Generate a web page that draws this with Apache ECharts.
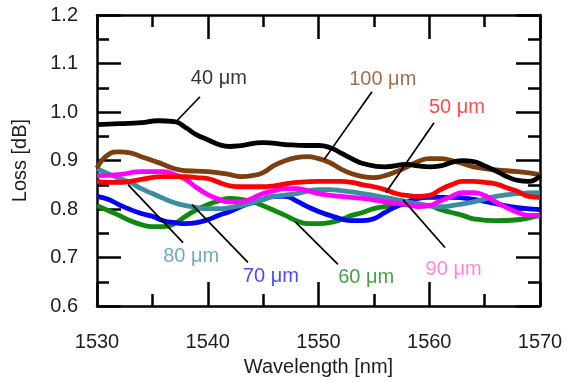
<!DOCTYPE html>
<html><head><meta charset="utf-8">
<script src="https://cdn.jsdelivr.net/npm/echarts@6/dist/echarts.min.js"></script>
<style>html,body{margin:0;padding:0;background:#fff}#c{width:572px;height:382px}</style>
</head><body><div id="c"></div>
<script>
// ---- data ----
const xTicks = [1530, 1540, 1550, 1560, 1570];
const yTicks = [0.6, 0.7, 0.8, 0.9, 1.0, 1.1, 1.2];

const wl40 = [1530,1532,1534,1535.5,1537,1538,1539,1540,1541,1542,1543,1545,1547,1549,1550,1551,1552,1553,1554,1556,1558,1559,1560,1561,1562,1563,1564,1565,1566,1567,1568,1569,1570];
const loss40 = [0.974,0.976,0.978,0.982,0.980,0.968,0.953,0.943,0.933,0.929,0.931,0.937,0.933,0.931,0.931,0.927,0.916,0.904,0.894,0.887,0.892,0.889,0.887,0.889,0.896,0.900,0.898,0.889,0.879,0.867,0.859,0.857,0.869];

const wl100 = [1530,1531,1532,1533,1534,1535,1536,1537,1538,1540,1542,1543,1544,1545,1546,1547,1548,1549,1550,1551,1552,1553,1554,1555,1556,1557,1558,1559,1560,1561,1562,1563,1564,1566,1568,1570];
const loss100 = [0.885,0.912,0.918,0.916,0.908,0.900,0.892,0.883,0.879,0.877,0.871,0.867,0.869,0.875,0.890,0.900,0.906,0.908,0.904,0.896,0.883,0.873,0.867,0.865,0.869,0.877,0.887,0.898,0.904,0.904,0.900,0.894,0.887,0.881,0.877,0.871];

const wl50 = [1530,1531,1532,1533,1534,1536,1538,1539,1540,1541,1542,1543,1545,1546,1547,1548,1550,1552,1553,1554,1555,1556,1557,1558,1559,1560,1561,1562,1563,1564,1565,1566,1567,1568,1569,1570];
const loss50 = [0.857,0.855,0.855,0.857,0.861,0.867,0.867,0.865,0.863,0.855,0.848,0.846,0.846,0.848,0.852,0.855,0.857,0.857,0.855,0.850,0.846,0.840,0.832,0.828,0.826,0.828,0.840,0.850,0.857,0.857,0.855,0.852,0.844,0.836,0.826,0.824];

const wl90 = [1530,1532,1534,1536,1537,1538,1539,1540,1541,1542,1543,1544,1545,1546,1547,1548,1549,1550,1552,1554,1556,1558,1559,1560,1561,1562,1563,1564,1565,1566,1567,1568,1569,1570];
const loss90 = [0.869,0.871,0.877,0.877,0.871,0.861,0.844,0.830,0.820,0.815,0.815,0.822,0.832,0.838,0.842,0.842,0.838,0.832,0.826,0.822,0.815,0.809,0.805,0.807,0.817,0.826,0.834,0.834,0.828,0.815,0.803,0.793,0.787,0.787];

const wl80 = [1530,1531,1532,1533,1534,1535,1536,1537,1538,1539,1540,1541,1542,1543,1544,1545,1546,1548,1550,1551,1552,1554,1556,1558,1560,1561,1562,1564,1566,1568,1570];
const loss80 = [0.883,0.873,0.863,0.855,0.842,0.832,0.822,0.813,0.807,0.803,0.801,0.801,0.803,0.807,0.813,0.820,0.826,0.832,0.840,0.840,0.838,0.832,0.824,0.815,0.807,0.805,0.807,0.815,0.826,0.832,0.834];

const wl70 = [1530,1531,1532,1533,1534,1535,1536,1537,1538,1539,1540,1541,1542,1543,1544,1545,1546,1547,1548,1549,1550,1551,1552,1553,1554,1555,1556,1557,1558,1559,1560,1562,1564,1566,1568,1570];
const loss70 = [0.826,0.820,0.809,0.799,0.791,0.785,0.776,0.772,0.770,0.772,0.778,0.787,0.795,0.805,0.813,0.820,0.826,0.826,0.817,0.805,0.795,0.787,0.780,0.776,0.776,0.780,0.793,0.805,0.815,0.822,0.824,0.824,0.820,0.811,0.803,0.799];

const wl60 = [1530,1531,1532,1533,1534,1535,1536,1537,1538,1539,1540,1541,1542,1543,1544,1545,1546,1547,1548,1549,1550,1551,1552,1553,1554,1555,1556,1558,1560,1561,1562,1563,1564,1566,1568,1569,1570];
const loss60 = [0.807,0.797,0.787,0.776,0.768,0.764,0.764,0.770,0.785,0.799,0.809,0.817,0.822,0.820,0.815,0.807,0.797,0.787,0.776,0.770,0.770,0.772,0.778,0.787,0.793,0.801,0.805,0.809,0.807,0.799,0.793,0.787,0.780,0.776,0.778,0.782,0.787];

// annotations (label text, anchor in data units) and leader lines
const annoText = ['40 μm','100 μm','50 μm','80 μm','70 μm','60 μm','90 μm'];
const annoX = [1541.0, 1555.8, 1562.5, 1538.5, 1545.7, 1554.3, 1562.2];
const annoY = [1.070, 1.067, 1.009, 0.702, 0.661, 0.659, 0.675];
const leaderX = [[1539.30,1537.22],[1554.83,1550.50],[1560.43,1556.09],[1532.80,1537.77],[1538.58,1543.63],[1547.88,1551.76],[1557.63,1561.42]];
const leaderY = [[1.0315,0.982],[1.0418,0.9019],[0.978,0.834],[0.8504,0.731],[0.809,0.690],[0.774,0.686],[0.8195,0.7208]];

// ---- styles ----
const annoColor = ['#000000','#8a4a1c','#ff1a1a','#4a97a8','#1a1aff','#178a17','#ff66cc'];
const FONT = '"Liberation Sans", Arial, sans-serif';
const TXT = '#1e1e1e';
const FS = 20;

function pairs(xs, ys){ return xs.map((x,i)=>[x, ys[i]]); }

const curves = [
  {name:'60 μm', x:wl60, y:loss60, color:'#0e8a0e'},
  {name:'70 μm', x:wl70, y:loss70, color:'#0000ff'},
  {name:'80 μm', x:wl80, y:loss80, color:'#3a8ea0'},
  {name:'90 μm', x:wl90, y:loss90, color:'#ff00ff'},
  {name:'50 μm', x:wl50, y:loss50, color:'#ff0000'},
  {name:'100 μm', x:wl100, y:loss100, color:'#7c3f10'},
  {name:'40 μm', x:wl40, y:loss40, color:'#000000'}
];

const axisLine = {show:true, lineStyle:{color:'#000', width:2.5}};
const tickStyle = {color:'#000', width:2.5};

const series = curves.map(c => ({
  type:'line', name:c.name, data:pairs(c.x, c.y), smooth:0.5, showSymbol:false,
  lineStyle:{color:c.color, width:4.8}, itemStyle:{color:c.color}, silent:true, z:2
}));

leaderX.forEach((lx, i) => {
  series.push({type:'line', data:pairs(lx, leaderY[i]), showSymbol:false, silent:true,
    lineStyle:{color:'#000', width:1.7}, z:3});
});

series.push({
  type:'scatter', symbolSize:0, silent:true, z:4,
  data: annoText.map((t,i)=>({value:[annoX[i], annoY[i]], name:t,
    label:{show:true, position:'inside', formatter:t, color:annoColor[i], fontSize:FS, fontFamily:FONT}}))
});

const chart = echarts.init(document.getElementById('c'), null, {renderer:'canvas'});
chart.setOption({
  animation:false,
  backgroundColor:'#fff',
  grid:{left:97, right:32, top:15, bottom:75, containLabel:false},
  xAxis:[{
    type:'value', min:xTicks[0], max:xTicks[xTicks.length-1], interval:10,
    name:'Wavelength [nm]', nameLocation:'middle', nameGap:47,
    nameTextStyle:{fontSize:FS, fontFamily:FONT, color:TXT},
    axisLine, axisTick:{show:true, inside:true, length:24, lineStyle:tickStyle},
    minorTick:{show:true, splitNumber:2, length:12, lineStyle:tickStyle},
    axisLabel:{fontSize:FS, fontFamily:FONT, color:TXT, margin:26, formatter:v=>String(v)},
    splitLine:{show:false}
  },{
    type:'value', position:'top', min:xTicks[0], max:xTicks[xTicks.length-1], interval:10,
    axisLine, axisTick:{show:true, inside:true, length:24, lineStyle:tickStyle},
    minorTick:{show:true, splitNumber:2, length:12, lineStyle:tickStyle},
    axisLabel:{show:false}, splitLine:{show:false}
  }],
  yAxis:[{
    type:'value', min:yTicks[0], max:yTicks[yTicks.length-1], interval:0.1,
    name:'Loss [dB]', nameLocation:'middle', nameGap:67, nameRotate:90,
    nameTextStyle:{fontSize:FS, fontFamily:FONT, color:TXT},
    axisLine, axisTick:{show:true, inside:true, length:24, lineStyle:tickStyle},
    minorTick:{show:true, splitNumber:2, length:12, lineStyle:tickStyle},
    axisLabel:{fontSize:FS, fontFamily:FONT, color:TXT, margin:19, formatter:v=>v.toFixed(1)},
    splitLine:{show:false}
  },{
    type:'value', position:'right', min:yTicks[0], max:yTicks[yTicks.length-1], interval:0.1,
    axisLine, axisTick:{show:true, inside:true, length:24, lineStyle:tickStyle},
    minorTick:{show:true, splitNumber:2, length:12, lineStyle:tickStyle},
    axisLabel:{show:false}, splitLine:{show:false}
  }],
  series
});
</script></body></html>
